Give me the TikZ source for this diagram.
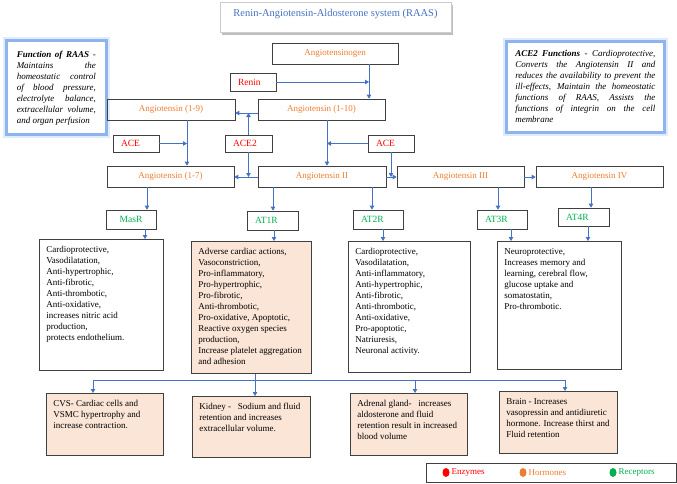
\documentclass[tikz,border=0pt]{standalone}
\usepackage{fontspec}
\setmainfont{Liberation Serif}
\usetikzlibrary{arrows.meta,shadows}
\definecolor{horm}{HTML}{ED7D31}
\definecolor{enz}{HTML}{FF0000}
\definecolor{rec}{HTML}{00B050}
\definecolor{lnblue}{HTML}{4472C4}
\definecolor{peach}{HTML}{FBE5D6}
\definecolor{glowblue}{HTML}{8EB4F0}
\definecolor{bordergray}{HTML}{404040}
\newcommand\jl[1]{\makebox[\linewidth][s]{#1}\\}
\newcommand\effect[3]{\parbox[t][#1pt][t]{#2pt}{\begin{tabular}[t]{@{}l@{}}#3\end{tabular}}}
\begin{document}
\begin{tikzpicture}[x=1pt,y=-1pt,
  box/.style={draw=bordergray, line width=0.7pt, inner sep=0pt},
  hormbox/.style={box, text=horm, font=\fontsize{9}{10}\selectfont, minimum height=21pt},
  enzbox/.style={box, text=enz, font=\fontsize{9.5}{11}\selectfont, minimum height=17pt, align=left, inner xsep=8pt},
  recbox/.style={box, text=rec, font=\fontsize{9.5}{11}\selectfont, minimum height=19pt, align=left, inner xsep=8pt},
  effbox/.style={box, font=\fontsize{9}{11}\selectfont, inner xsep=7pt, inner ysep=5.5pt, anchor=north west},
  orgbox/.style={effbox, fill=peach},
  glowbox/.style={fill=white, draw=glowblue, line width=2.5pt,
     preaction={draw=glowblue!60, line width=6.5pt, opacity=0.45},
     inner sep=0pt, anchor=north west, font=\fontsize{9}{11}\selectfont\itshape},
  titlebox/.style={draw=black!20, line width=0.5pt, fill=white,
     drop shadow={shadow xshift=2pt, shadow yshift=-2.5pt, opacity=0.5},
     minimum width=231pt, minimum height=30pt, text=lnblue,
     font=\fontsize{10.5}{12}\selectfont, text height=7.5pt, text depth=8.5pt},
  arr/.style={draw=lnblue, line width=0.8pt, -{Triangle[length=4pt,width=4.5pt]}},
  legtext/.style={anchor=west, inner sep=0pt, font=\fontsize{9}{10}\selectfont}
]
\useasboundingbox (0,0) rectangle (677,483);

% title
\node[titlebox] (title) at (335.5,17) {Renin-Angiotensin-Aldosterone system (RAAS)};

% function boxes
\node[glowbox, inner xsep=10.5pt, inner ysep=10.5pt] (fraas) at (5,39)
 {\parbox[t][73pt][t]{79pt}{%
 \jl{\textbf{Function of RAAS} -}%
 \jl{Maintains the}%
 \jl{homeostatic control}%
 \jl{of blood pressure,}%
 \jl{electrolyte balance,}%
 \jl{extracellular volume,}%
 and organ perfusion}};
\node[glowbox, inner xsep=9pt, inner ysep=9.5pt] (face2) at (505,40)
 {\parbox[t][72pt][t]{140pt}{%
 \jl{\textbf{ACE2 Functions} - Cardioprotective,}%
 \jl{Converts the Angiotensin II and}%
 \jl{reduces the availability to prevent the}%
 \jl{ill-effects, Maintain the homeostatic}%
 \jl{functions of RAAS, Assists the}%
 \jl{functions of integrin on the cell}%
 membrane}};

% cascade
\node[hormbox, minimum width=126pt] (agen) at (335,53.5) {Angiotensinogen};
\node[enzbox, text width=30pt, minimum height=18pt] (renin) at (253,82) {Renin};
\node[hormbox, minimum width=128pt] (a19) at (171,109.5) {Angiotensin (1-9)};
\node[hormbox, minimum width=127pt] (a110) at (321.5,109.5) {Angiotensin (1-10)};
\node[enzbox, text width=30pt] (aceL) at (136,143.5) {ACE};
\node[enzbox, text width=31pt] (ace2) at (248.5,143.5) {ACE2};
\node[enzbox, text width=30pt] (aceR) at (391,143.5) {ACE};
\node[hormbox, minimum width=127pt] (a17) at (170.5,176.5) {Angiotensin (1-7)};
\node[hormbox, minimum width=128pt] (a2) at (322,176.5) {Angiotensin II};
\node[hormbox, minimum width=127pt] (a3) at (460.5,176.5) {Angiotensin III};
\node[hormbox, minimum width=127pt] (a4) at (599.5,176.5) {Angiotensin IV};

% receptors
\node[recbox, text width=34pt, align=center] (masr) at (131,219.5) {MasR};
\node[recbox, text width=35pt] (at1r) at (272.5,220.5) {AT1R};
\node[recbox, text width=34pt] (at2r) at (378,219.5) {AT2R};
\node[recbox, text width=34pt] (at3r) at (502,219.5) {AT3R};
\node[recbox, text width=35pt, minimum height=18pt] (at4r) at (583.5,217) {AT4R};

% effects
\node[effbox] (e0) at (39,239) {\effect{120}{110}{Cardioprotective,\\Vasodilatation,\\Anti-hypertrophic,\\Anti-fibrotic,\\Anti-thrombotic,\\Anti-oxidative,\\increases nitric acid\\production,\\protects endothelium.}};
\node[orgbox] (e1) at (191,241) {\effect{121}{106}{Adverse cardiac actions,\\Vasoconstriction,\\Pro-inflammatory,\\Pro-hypertrophic,\\Pro-fibrotic,\\Anti-thrombotic,\\Pro-oxidative, Apoptotic,\\Reactive oxygen species\\production,\\Increase platelet aggregation\\and adhesion}};
\node[effbox] (e2) at (348,241) {\effect{120}{108}{Cardioprotective,\\Vasodilatation,\\Anti-inflammatory,\\Anti-hypertrophic,\\Anti-fibrotic,\\Anti-thrombotic,\\Anti-oxidative,\\Pro-apoptotic,\\Natriuresis,\\Neuronal activity.}};
\node[effbox] (e3) at (497,241) {\effect{117}{110}{Neuroprotective,\\Increases memory and\\learning, cerebral flow,\\glucose uptake and\\somatostatin,\\Pro-thrombotic.}};

% organs
\node[orgbox] (cvs) at (46,393) {\effect{51}{103}{CVS- Cardiac cells and\\VSMC hypertrophy and\\increase contraction.}};
\node[orgbox] (kid) at (192,396) {\effect{50}{104}{Kidney - \ \ Sodium and fluid\\retention and increases\\extracellular volume.}};
\node[orgbox] (adr) at (350,393) {\effect{51}{103}{Adrenal gland- \ \ increases\\aldosterone and fluid\\retention result in increased\\blood volume}};
\node[orgbox] (brain) at (499,391) {\effect{51}{104}{Brain - Increases\\vasopressin and antidiuretic\\hormone. Increase thirst and\\Fluid retention}};

% legend
\node[box, minimum width=250pt, minimum height=19pt] (legend) at (551,472.5) {};
\fill[enz] (446,472.5) ellipse (3.5 and 4.5);
\fill[horm] (523,472.5) ellipse (3.5 and 4.5);
\fill[rec] (613,472.5) ellipse (3.5 and 4.5);
\node[legtext, text=enz] (lenz) at (451.5,472.5) {Enzymes};
\node[legtext, text=horm] (lhorm) at (528.5,472.5) {Hormones};
\node[legtext, text=rec] (lrec) at (618.5,472.5) {Receptors};

% helper coordinates
\coordinate (Y113) at (0,113);
\coordinate (Y177) at (0,177);
\coordinate (X369) at (369,0);
\coordinate (X187) at (187,0);
\coordinate (X327) at (327,0);
\coordinate (X147) at (147,0);
\coordinate (X273) at (273,0);
\coordinate (X372) at (372,0);
\coordinate (X498) at (498,0);
\coordinate (X591) at (591,0);
\coordinate (X145) at (145,0);
\coordinate (X274) at (274,0);
\coordinate (X383) at (383,0);
\coordinate (X511) at (511,0);
\coordinate (X588) at (588,0);
\coordinate (X93) at (93,0);
\coordinate (X415) at (415,0);
\coordinate (X565) at (565,0);
\coordinate (bus) at (255,380);

% connectors
\draw[arr] (agen.south -| X369) -- (a110.north -| X369);
\draw[arr] (renin.east) -- (renin.east -| X369);
\draw[arr] (a110.west |- Y113) -- (a19.east |- Y113);
\draw[arr] (ace2.north) -- (ace2.north |- Y113);
\draw[arr] (ace2.south) -- (ace2.south |- Y177);
\draw[arr] (a19.south -| X187) -- (a17.north -| X187);
\draw[arr] (aceL.east) -- (aceL.east -| X187);
\draw[arr] (a110.south -| X327) -- (a2.north -| X327);
\draw[arr] (aceR.west) -- (aceR.west -| X327);
\draw[arr] (aceR.south) -- (aceR.south |- Y177);
\draw[arr] (a2.west |- Y177) -- (a17.east |- Y177);
\draw[arr] (a2.east |- Y177) -- (a3.west |- Y177);
\draw[arr] (a3.east |- Y177) -- (a4.west |- Y177);

\draw[arr] (a17.south -| X147) -- (masr.north -| X147);
\draw[arr] (a2.south -| X273) -- (at1r.north -| X273);
\draw[arr] (a2.south -| X372) -- (at2r.north -| X372);
\draw[arr] (a3.south -| X498) -- (at3r.north -| X498);
\draw[arr] (a4.south -| X591) -- (at4r.north -| X591);

\draw[arr] (masr.south -| X145) -- (e0.north -| X145);
\draw[arr] (at1r.south -| X274) -- (e1.north -| X274);
\draw[arr] (at2r.south -| X383) -- (e2.north -| X383);
\draw[arr] (at3r.south -| X511) -- (e3.north -| X511);
\draw[arr] (at4r.south -| X588) -- (e3.north -| X588);

\draw[arr] (e1.south -| bus) -- (kid.north -| bus);
\draw[arr] (bus) -| (cvs.north -| X93);
\draw[arr] (bus) -| (adr.north -| X415);
\draw[arr] (bus) -| (brain.north -| X565);
\end{tikzpicture}
\end{document}
